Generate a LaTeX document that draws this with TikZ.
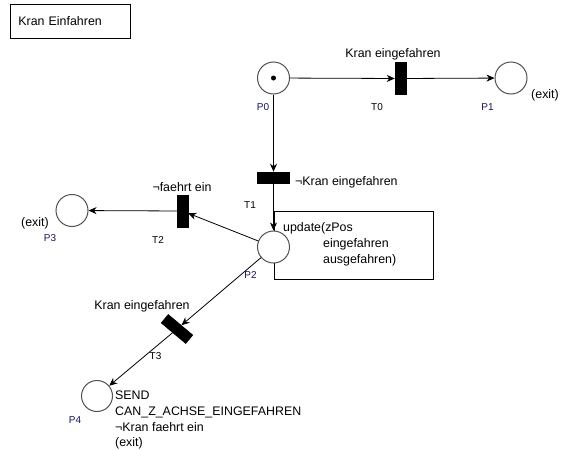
\documentclass[tikz,border=0pt]{standalone}
\usepackage{fontspec}
\setmainfont{Liberation Sans}
\usetikzlibrary{arrows.meta}
\definecolor{placeline}{RGB}{80,80,80}
\definecolor{plabel}{RGB}{20,20,90}
\begin{document}
\begin{tikzpicture}[x=1pt,y=-1pt,
  place/.style={circle,draw=placeline,line width=1pt,fill=white,minimum size=32pt,inner sep=0pt},
  trans/.style={rectangle,fill=black,draw=black,line width=0.5pt,inner sep=0pt},
  vbar/.style={trans,minimum width=11pt,minimum height=32pt},
  hbar/.style={trans,minimum width=32pt,minimum height=11pt},
  arc/.style={draw=black,line width=0.8pt,-{Stealth[length=8pt,width=7pt,inset=2.5pt]}},
  lbl/.style={font=\fontsize{12.4}{15.7}\selectfont,inner sep=0pt},
  plbl/.style={font=\fontsize{10}{12}\selectfont,text=plabel,inner sep=0pt,anchor=base},
  tlbl/.style={font=\fontsize{10}{12}\selectfont,text=black,inner sep=0pt,anchor=base},
]
\useasboundingbox (0,0) rectangle (561,450);

% title box
\node (title) [draw,line width=0.8pt,anchor=north west,minimum width=120pt,minimum height=34pt,
  text width=104pt,inner xsep=8pt,inner ysep=0pt,align=left,font=\fontsize{12.4}{15.7}\selectfont]
  at (10,4) {Kran Einfahren};

% annotation box of P2
\node (upd) [draw,line width=0.8pt,anchor=north west,minimum width=159pt,minimum height=68pt,inner sep=0pt]
  at (274,211) {};

% places
\node (P0) [place] at (273.5,78) {};
\node (P1) [place] at (511,78) {};
\node (P2) [place] at (273.5,247) {};
\node (P3) [place] at (72,210.5) {};
\node (P4) [place,minimum size=31pt] at (97,396) {};
\node (tok) [circle,fill=black,minimum size=5pt,inner sep=0pt] at (P0) {};

% transitions
\node (T0) [vbar] at (400.5,78.5) {};
\node (T1) [hbar] at (273.5,177.5) {};
\node (T2) [vbar] at (182.5,211) {};
\node (T3) [hbar,rotate=-40] at (177,329) {};

% arcs
\draw[arc] (P0) -- (T0);
\draw[arc] (T0) -- (P1);
\draw[arc] (P0) -- (T1);
\draw[arc] (T1) -- (P2);
\draw[arc] (P2) -- (T2);
\draw[arc] (T2) -- (P3);
\draw[arc] (P2) -- (T3);
\draw[arc] (T3) -- (P4);

% guard labels
\node (g0) [lbl,anchor=base] at (393,57) {Kran eingefahren};
\node (g1) [lbl,anchor=base west] at (295,185) {¬Kran eingefahren};
\node (g2) [lbl,anchor=base] at (182,191) {¬faehrt ein};
\node (g3) [lbl,anchor=base] at (142,309.5) {Kran eingefahren};

% place annotations
\node (x1) [lbl,anchor=base] at (545,98) {(exit)};
\node (x3) [lbl,anchor=base] at (35,226) {(exit)};
\node (u2) [lbl,align=left,anchor=north west,font=\fontsize{12.4}{16}\selectfont] at (283,221.5)
  {\rule{0pt}{10pt}update(zPos\\\hspace*{40pt}eingefahren\\\hspace*{40pt}ausgefahren)};
\node (s4) [lbl,align=left,anchor=north west] at (115,389.5)
  {\rule{0pt}{10pt}SEND\\CAN\_Z\_ACHSE\_EINGEFAHREN\\¬Kran faehrt ein\\(exit)};

% names
\node (nP0) [plbl] at (263,110.4) {P0};
\node (nP1) [plbl] at (487.5,110.4) {P1};
\node (nP2) [plbl] at (250.5,278) {P2};
\node (nP3) [plbl] at (50,241) {P3};
\node (nP4) [plbl] at (75,423) {P4};
\node (nT0) [tlbl] at (377,110.4) {T0};
\node (nT1) [tlbl] at (250,208) {T1};
\node (nT2) [tlbl] at (158,243) {T2};
\node (nT3) [tlbl] at (155.5,359) {T3};
\end{tikzpicture}
\end{document}
